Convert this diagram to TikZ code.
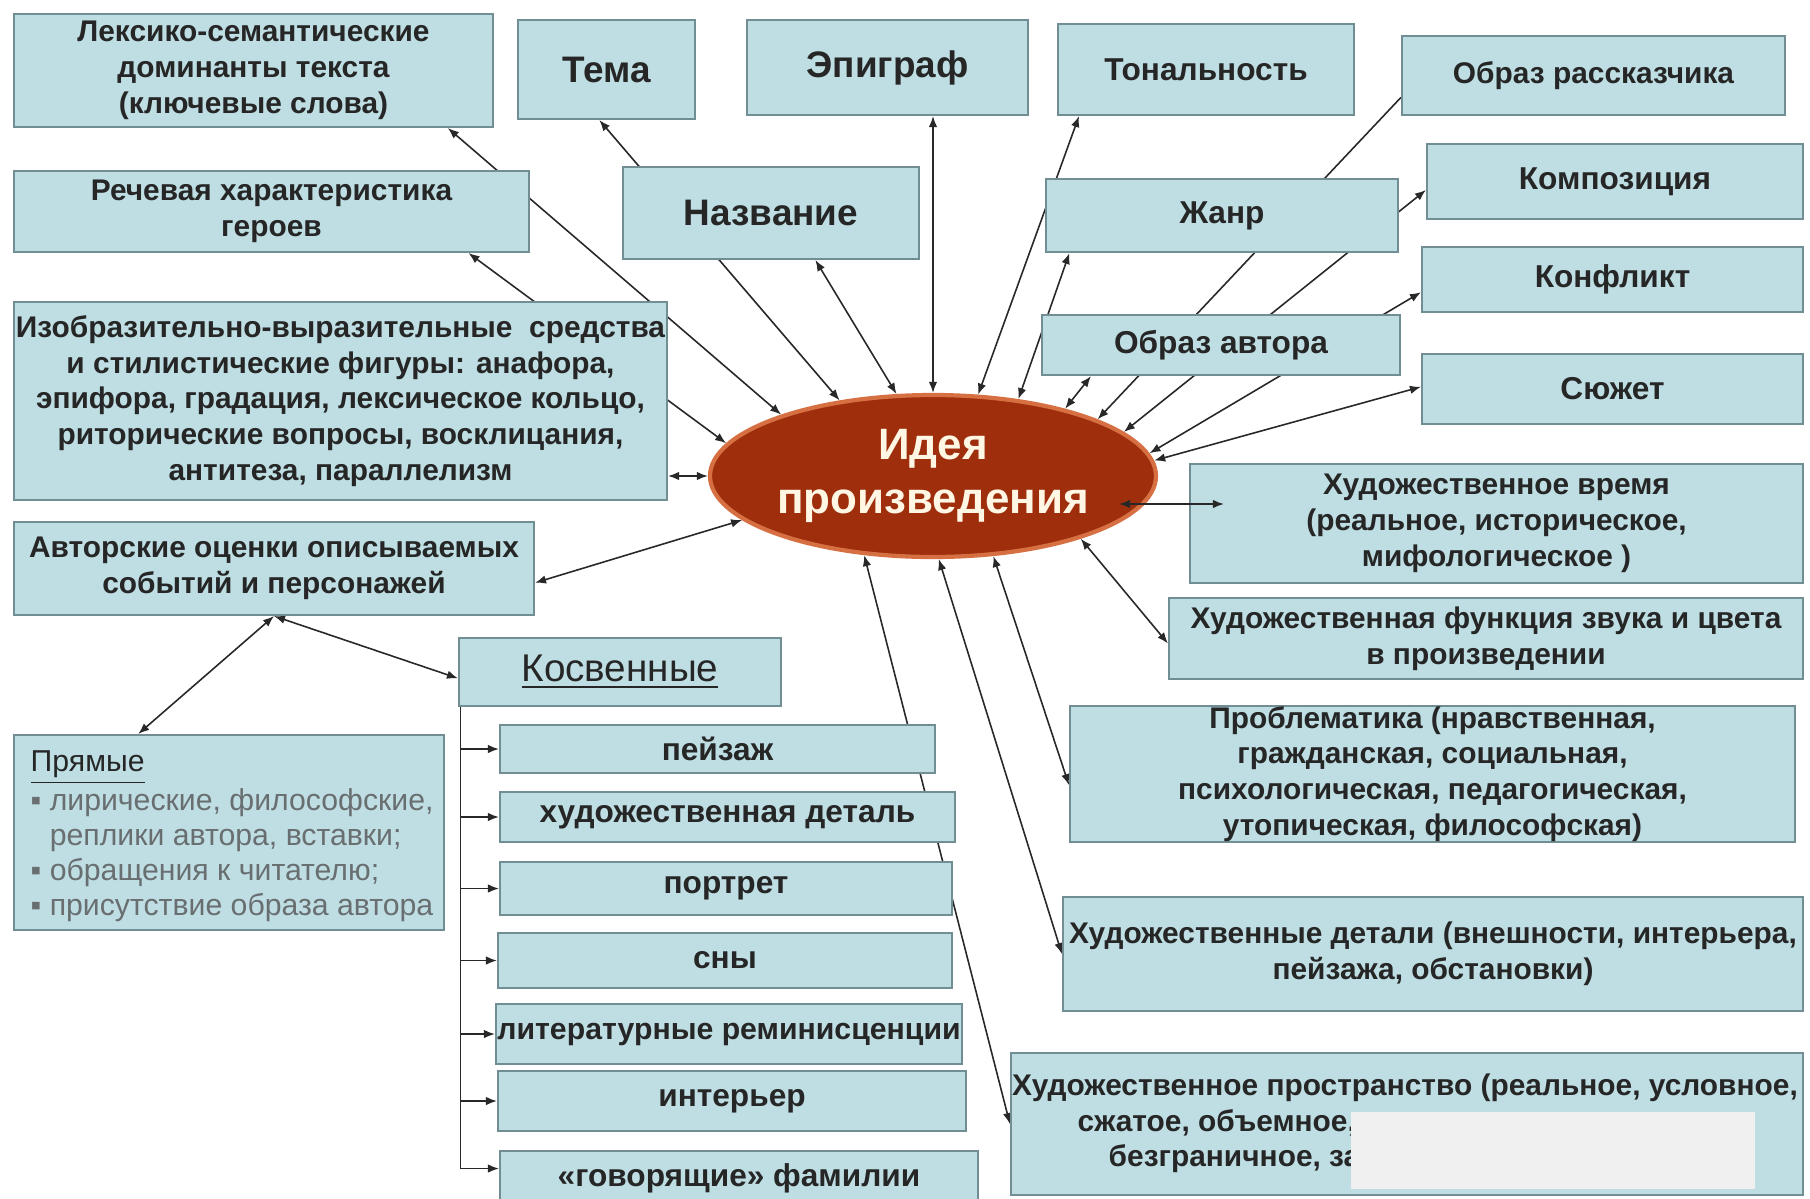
\documentclass[tikz,border=0pt]{standalone}
\usepackage{fontspec}
\setmainfont{Liberation Sans}
\usetikzlibrary{arrows.meta,shapes.geometric,calc,backgrounds,positioning}

\definecolor{boxfill}{RGB}{190,222,227}
\definecolor{boxline}{RGB}{112,142,147}
\definecolor{boxtext}{RGB}{38,38,38}
\definecolor{ideafill}{RGB}{158,46,12}
\definecolor{ideaedge}{RGB}{214,112,66}
\definecolor{ideatext}{RGB}{255,246,228}
\definecolor{linkcol}{RGB}{40,40,40}
\definecolor{graytext}{RGB}{105,110,112}
\definecolor{patchcol}{RGB}{240,240,240}

\tikzset{
  box/.style={draw=boxline, fill=boxfill, line width=0.6pt, inner sep=0pt,
    align=center, text=boxtext, font=\bfseries\fontsize{8.5}{10.2}\selectfont},
  bigbox/.style={box, font=\bfseries\fontsize{10.5}{12.6}\selectfont},
  midbox/.style={box, font=\bfseries\fontsize{9}{10.8}\selectfont},
  plain/.style={inner sep=0pt, align=left, text=boxtext,
    font=\bfseries\fontsize{8.5}{10.2}\selectfont},
  link/.style={linkcol, line width=0.45pt, <->},
  tolink/.style={linkcol, line width=0.45pt, ->},
}

\begin{document}
\begin{tikzpicture}[x=0.1mm, y=-0.1mm, >={Latex[length=1.1mm,width=0.85mm]}]
  \useasboundingbox (0,0) rectangle (1810,1199);

  % top row
  \node[box, minimum width=47.9mm, minimum height=11.3mm] (lex) at (253.5,70.5) {Лексико-семантические\\доминанты текста\\(ключевые слова)};
  \node[bigbox, minimum width=17.7mm, minimum height=9.9mm] (tema) at (606.5,69.5) {Тема};
  \node[bigbox, minimum width=28.1mm, minimum height=9.5mm] (epigraf) at (887.5,67.5) {Эпиграф};
  \node[midbox, minimum width=29.6mm, minimum height=9.1mm] (tonal) at (1206,69.5) {Тональность};
  \node[box, minimum width=38.3mm, minimum height=7.9mm] (rasskaz) at (1593.5,75.5) {Образ рассказчика};

  % second row
  \node[box, minimum width=51.5mm, minimum height=8.1mm] (rech) at (271.5,211.5) {Речевая характеристика\\героев};
  \node[bigbox, minimum width=29.6mm, minimum height=9.2mm] (nazv) at (771,213) {Название};
  \node[midbox, minimum width=35.2mm, minimum height=7.3mm] (zhanr) at (1222,215.5) {Жанр};
  \node[midbox, minimum width=37.6mm, minimum height=7.5mm] (kompoz) at (1615,181.5) {Композиция};
  \node[midbox, minimum width=38.1mm, minimum height=6.5mm] (konfl) at (1612.5,279.5) {Конфликт};
  \node[midbox, minimum width=35.8mm, minimum height=6.0mm] (obrazavt) at (1221,345) {Образ автора};
  \node[midbox, minimum width=38.1mm, minimum height=7.0mm] (syuzhet) at (1612.5,389) {Сюжет};

  \node[box, minimum width=65.3mm, minimum height=19.8mm] (izobr) at (340.5,401) {Изобразительно-выразительные~ средства\\и стилистические фигуры: анафора,\\эпифора, градация, лексическое кольцо,\\риторические вопросы, восклицания,\\антитеза, параллелизм};

  % centre
  \node[ellipse, draw=ideaedge, fill=ideafill, line width=1.2pt, minimum width=44.6mm,
    minimum height=16.2mm, inner sep=0pt, text=ideatext, align=center,
    font=\bfseries\fontsize{12.5}{15.4}\selectfont] (idea) at (933,476) {Идея\\произведения};

  % right column
  \node[box, minimum width=61.3mm, minimum height=11.9mm] (vremya) at (1496.5,523.5) {Художественное время\\(реальное, историческое,\\мифологическое )};
  \node[box, minimum width=63.4mm, minimum height=8.1mm] (zvuk) at (1486,638.5) {Художественная функция звука и цвета\\в произведении};
  \node[box, minimum width=72.5mm, minimum height=13.2mm] (problem) at (1432.5,774) {Проблематика (нравственная,\\гражданская, социальная,\\психологическая, педагогическая,\\утопическая, философская)};
  \node[box, minimum width=74.0mm, minimum height=11.4mm] (detali) at (1433,954) {Художественные детали (внешности, интерьера,\\пейзажа, обстановки)};
  \node[box, minimum width=79.2mm, minimum height=14.2mm] (prostr) at (1407,1124) {};
  \node[plain] (prostrA) at (1405,1088) {Художественное пространство (реальное, условное,};
  \node[plain, anchor=west] (prostrB) at (1077,1123) {сжатое, объемное,};
  \node[plain, anchor=west] (prostrC) at (1108,1159) {безграничное, за};
  \fill[patchcol] (1351,1112) rectangle (1755,1189);

  % left, lower part
  \node[box, minimum width=52.0mm, minimum height=9.3mm] (ocenki) at (274,568.5) {Авторские оценки описываемых\\событий и персонажей};
  \node[box, minimum width=43.0mm, minimum height=19.5mm] (pryam) at (229,832.5) {};
  \node[plain, anchor=north west, text=graytext, font=\fontsize{8.6}{10}\selectfont] (pryamtxt) at (30,750)
    {{\color{boxtext}\underline{Прямые}}\\▪ лирические, философские,\\\phantom{▪ }реплики автора, вставки;\\▪ обращения к читателю;\\▪ присутствие образа автора};
  \node[box, minimum width=32.2mm, minimum height=6.8mm, font=\fontsize{11}{13}\selectfont] (kosv) at (620,672) {\underline{Косвенные}};

  \node[midbox, minimum width=43.5mm, minimum height=4.8mm] (peizazh) at (717.5,749) {пейзаж};
  \node[midbox, minimum width=45.5mm, minimum height=5.0mm] (detal) at (727.5,817) {художественная деталь};
  \node[midbox, minimum width=45.2mm, minimum height=5.3mm] (portret) at (726,888.5) {портрет};
  \node[midbox, minimum width=45.4mm, minimum height=5.5mm] (sny) at (725,960.5) {сны};
  \node[midbox, minimum width=46.6mm, minimum height=6.0mm, font=\bfseries\fontsize{8.6}{10.3}\selectfont] (lit) at (729,1034) {литературные реминисценции};
  \node[midbox, minimum width=46.8mm, minimum height=6.0mm] (interier) at (732,1101) {интерьер};
  \node[midbox, minimum width=47.8mm, minimum height=5.5mm] (familii) at (739,1178.5) {«говорящие» фамилии};

  % connectors behind the boxes
  \begin{scope}[on background layer]
    \fill[white] (0,0) rectangle (1810,1199);
    \draw[link] ($(lex.south west)!0.904!(lex.south east)$) -- (idea.158.6);
    \draw[link] ($(rech.south west)!0.881!(rech.south east)$) -- (idea.171);
    \draw[link] (izobr.east |- idea.west) -- (idea.west);
    \draw[link] ($(tema.south west)!0.46!(tema.south east)$) -- (idea.141);
    \draw[link] ($(nazv.south west)!0.649!(nazv.south east)$) -- (idea.114);
    \draw[link] (idea.north |- epigraf.south) -- (idea.north);
    \draw[link] ($(tonal.south west)!0.074!(tonal.south east)$) -- (idea.61);
    \draw[link] ($(zhanr.south west)!0.069!(zhanr.south east)$) -- (idea.42);
    \draw[link] ($(obrazavt.south west)!0.139!(obrazavt.south east)$) -- (idea.27);
    \draw[tolink] ($(rasskaz.north west)!0.77!(rasskaz.south west)$) -- (idea.19.4);
    \draw[link] ($(kompoz.north west)!0.61!(kompoz.south west)$) -- (idea.13);
    \draw[link] ($(konfl.north west)!0.69!(konfl.south west)$) -- (idea.6);
    \draw[link] ($(syuzhet.north west)!0.47!(syuzhet.south west)$) -- (idea.4);
    \draw[link] (idea.-23.5) -- ($(zvuk.north west)!0.56!(zvuk.south west)$);
    \draw[link] (idea.-53) -- ($(problem.north west)!0.58!(problem.south west)$);
    \draw[link] (idea.-86.5) -- (detali.west);
    \draw[link] (idea.-131) -- (prostr.west);
    \draw[link] (idea.-167) -- ($(ocenki.north east)!0.65!(ocenki.south east)$);
    \draw[link] (ocenki.south) -- ($(pryam.north west)!0.29!(pryam.north east)$);
    \draw[link] (ocenki.south) -- ($(kosv.north west)!0.59!(kosv.south west)$);
  \end{scope}

  \draw[link] ([xshift=-3.9mm,yshift=-2.8mm]idea.east) coordinate (vstart) -- ([xshift=3.5mm]vremya.west |- vstart);

  % indirect ones
  \coordinate (trunk) at ([xshift=0.25mm]kosv.south west);
  \draw[linkcol, line width=0.45pt] (trunk) -- ([yshift=1mm]familii.west -| trunk);
  \draw[tolink] (trunk |- peizazh.west) -- (peizazh.west);
  \draw[tolink] (trunk |- detal.west) -- (detal.west);
  \draw[tolink] (trunk |- portret.west) -- (portret.west);
  \draw[tolink] (trunk |- sny.west) -- (sny.west);
  \draw[tolink] (trunk |- lit.west) -- (lit.west);
  \draw[tolink] (trunk |- interier.west) -- (interier.west);
  \draw[tolink] ([yshift=1mm]familii.west -| trunk) -- ([yshift=1mm]familii.west);
\end{tikzpicture}
\end{document}
